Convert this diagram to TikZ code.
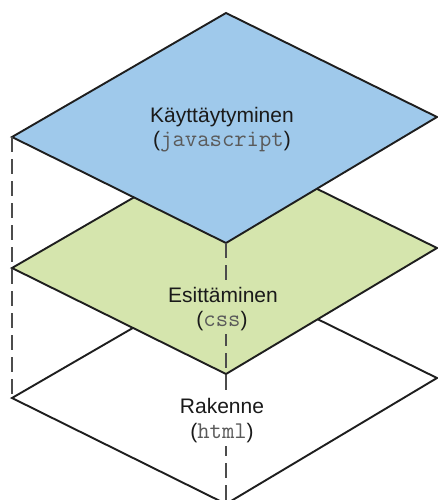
\documentclass[tikz,border=0pt]{standalone}
\usepackage{fontspec}
\setmainfont{Liberation Sans}
\definecolor{layerblue}{HTML}{9FC9EB}
\definecolor{layergreen}{HTML}{D5E5AD}
\definecolor{edgecol}{HTML}{1E1E1E}
\definecolor{codecol}{HTML}{5A5A5A}
\definecolor{titlecol}{HTML}{1A1A1A}
\newcommand{\codetxt}[1]{\textcolor{codecol}{\fontsize{24}{25}\ttfamily #1}}
\begin{document}
\begin{tikzpicture}[x=1pt,y=-1pt,
  layer/.style={draw=edgecol,line width=1.9pt,line join=miter},
  guide/.style={draw=black!70,line width=1.2pt,dash pattern=on 15pt off 7pt},
  title/.style={anchor=base,inner xsep=2pt,inner ysep=5pt,text=titlecol,font=\fontsize{21}{25}\selectfont},
  code/.style={anchor=base,inner xsep=2pt,inner ysep=4pt,text=titlecol,font=\fontsize{21}{25}\selectfont}]
\useasboundingbox (0,0) rectangle (438,500);
\clip (0,0) rectangle (438,500);
% vertices
\coordinate (bT) at (226,13);  \coordinate (bL) at (12,137);
\coordinate (bB) at (226,243); \coordinate (bR) at (437,117);
\coordinate (gT) at (226,144); \coordinate (gL) at (12,268);
\coordinate (gB) at (226,374); \coordinate (gR) at (437,248);
\coordinate (wT) at (226,274); \coordinate (wL) at (12,398);
\coordinate (wB) at (226,504); \coordinate (wR) at (437,378);
% layers
\filldraw[layer,fill=white] (wT) -- (wR) -- (wB) -- (wL) -- cycle;
\filldraw[layer,fill=layergreen] (gT) -- (gR) -- (gB) -- (gL) -- cycle;
\filldraw[layer,fill=layerblue] (bT) -- (bR) -- (bB) -- (bL) -- cycle;
% guides
\draw[guide] (bL) -- (wL);
\draw[guide] (bB) -- (wB);
% labels
\node[title,fill=layerblue] (t1) at (222,122) {Käyttäytyminen};
\node[code,fill=layerblue] (c1) at (222,146) {(\codetxt{javascript})};
\node[title,fill=layergreen] (t2) at (223,302) {Esittäminen};
\node[code,fill=layergreen] (c2) at (222,326) {(\codetxt{css})};
\node[title,fill=white] (t3) at (222,413) {Rakenne};
\node[code,fill=white] (c3) at (222,438) {(\codetxt{html})};
\end{tikzpicture}
\end{document}
